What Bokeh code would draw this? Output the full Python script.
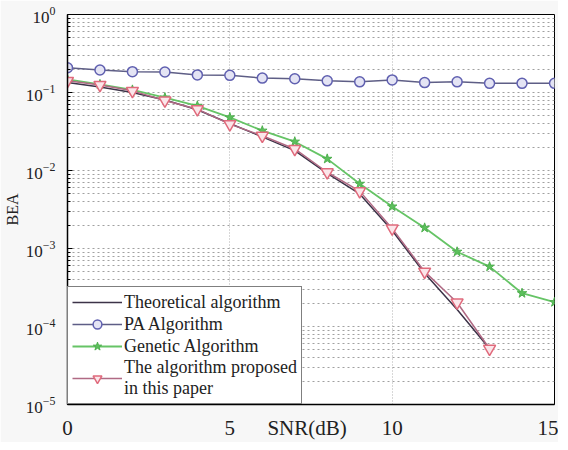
from bokeh.plotting import figure
from bokeh.models import FixedTicker, Range1d
from bokeh.embed import file_html
from bokeh.resources import INLINE

# ---- data ----
snr = list(range(0, 16))
snr_13 = list(range(0, 14))

theoretical = [0.134, 0.118, 0.100, 0.080, 0.060, 0.040, 0.027, 0.018,
               0.0092, 0.0050, 0.0017, 0.00048, 0.000165, 0.000052]
pa_alg = [0.208, 0.194, 0.185, 0.183, 0.168, 0.166, 0.153, 0.150,
          0.141, 0.137, 0.145, 0.134, 0.137, 0.131, 0.131, 0.131]
genetic = [0.147, 0.127, 0.108, 0.0861, 0.0675, 0.0479, 0.0324, 0.0234,
           0.0141, 0.00675, 0.00345, 0.00184, 0.000908, 0.000585, 0.000267, 0.000205]
proposed = [0.141, 0.125, 0.105, 0.0788, 0.0611, 0.0393, 0.0279, 0.0189,
            0.0095, 0.00544, 0.00181, 0.000505, 0.000203, 0.0000518]

x_ticks = [0, 5, 10, 15]
x_title_pos = 7.38          # the x-axis title sits in the tick-label row
x_title = "SNR(dB)"
y_ticks = [10.0 ** k for k in range(-5, 1)]
y_minor = [m * 10.0 ** k for k in range(-5, 0) for m in range(2, 10)]

FONT = "Liberation Serif"

p = figure(width=558, height=442, y_axis_type="log",
           x_range=Range1d(0, 15), y_range=Range1d(1e-5, 1),
           output_backend="svg", toolbar_location=None,
           min_border_left=58, min_border_right=4,
           min_border_top=14, min_border_bottom=36)

p.background_fill_color = "white"
p.border_fill_color = "#f7f7f7"
p.outline_line_color = "black"
p.outline_line_width = 1

# axes
p.xaxis.ticker = FixedTicker(ticks=sorted(x_ticks + [x_title_pos]))
p.xaxis.major_label_overrides = {x_title_pos: x_title}
p.yaxis.ticker = FixedTicker(ticks=y_ticks, minor_ticks=y_minor)
for ax in (p.xaxis[0], p.yaxis[0]):
    ax.axis_line_color = "black"
    ax.axis_line_width = 1.5
    ax.major_tick_in = 5
    ax.major_tick_out = 0
    ax.minor_tick_in = 3
    ax.minor_tick_out = 0
    ax.major_label_text_font = FONT
    ax.major_label_text_color = "#222222"
p.xaxis.major_tick_in = 0
p.xaxis.minor_tick_line_color = None
p.xaxis.major_label_text_font_size = "21px"
p.xaxis.major_label_standoff = 11
p.yaxis.major_label_text_font_size = "17px"
p.yaxis.major_label_standoff = 12
p.yaxis.major_label_text_baseline = "bottom"
p.yaxis.axis_label = "BEA"
p.yaxis.axis_label_text_font = FONT
p.yaxis.axis_label_text_font_style = "normal"
p.yaxis.axis_label_text_font_size = "16px"
p.yaxis.axis_label_text_color = "#222222"
p.yaxis.axis_label_standoff = 2

# grids
p.xgrid.ticker = FixedTicker(ticks=[5, 10])
p.xgrid.grid_line_color = "#b0b0b0"
p.xgrid.grid_line_dash = "1 2"
p.ygrid.ticker = FixedTicker(ticks=y_ticks, minor_ticks=y_minor)
p.ygrid.grid_line_color = "#a0a0a0"
p.ygrid.grid_line_dash = "2 3"
p.ygrid.minor_grid_line_color = "#a0a0a0"
p.ygrid.minor_grid_line_dash = "2 3"

# series
p.line(snr_13, theoretical, color="#3c3348", line_width=1.5,
       legend_label="Theoretical algorithm")

p.line(snr, pa_alg, color="#5e5e86", line_width=1.5, legend_label="PA Algorithm")
p.scatter(snr, pa_alg, marker="circle", size=10, line_color="#6060b0",
          line_width=1.5, fill_color="#e4e4f4", legend_label="PA Algorithm")

p.line(snr, genetic, color="#66c466", line_width=1.8, legend_label="Genetic Algorithm")
p.scatter(snr, genetic, marker="star", size=10, line_color="#4fb04f",
          fill_color="#5cc05c", legend_label="Genetic Algorithm")

lbl = "The algorithm proposed\nin this paper"
p.line(snr_13, proposed, color="#b06a84", line_width=1.5, legend_label=lbl)
p.scatter(snr_13, proposed, marker="inverted_triangle", size=12,
          line_color="#e06a7c", line_width=1.5, fill_color="#fbe6ea",
          legend_label=lbl)

# legend
lg = p.legend[0]
lg.location = "bottom_left"
lg.margin = 0
lg.padding = 4
lg.spacing = 0
lg.border_line_color = "black"
lg.border_line_width = 1
lg.background_fill_color = "white"
lg.background_fill_alpha = 1
lg.label_text_font = FONT
lg.label_text_font_size = "18px"
lg.label_text_color = "#222222"
lg.label_height = 22
lg.glyph_height = 22
lg.glyph_width = 50
lg.label_standoff = 2
lg.label_text_line_height = 1.0

open("out.html", "w").write(file_html(p, INLINE))
